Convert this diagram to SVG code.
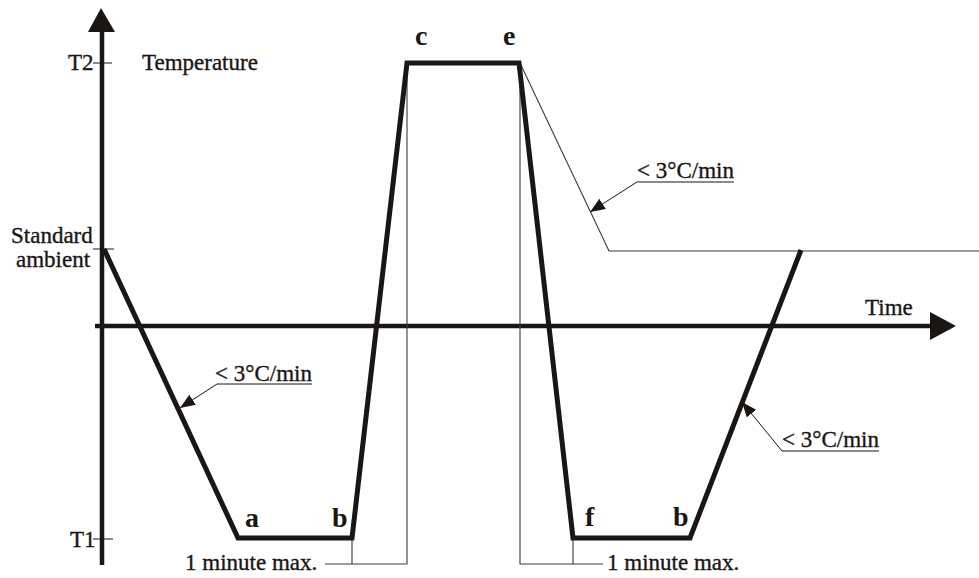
<svg xmlns="http://www.w3.org/2000/svg" width="979" height="578" viewBox="0 0 979 578">
<style>
text{font-family:"Liberation Serif","Times New Roman",serif;fill:#1a1614;font-size:23px;stroke:#1a1614;stroke-width:0.35}
.pt{font-size:28px;font-weight:bold;stroke-width:0}
.axis{stroke:#1a1614;stroke-width:4.5;fill:none}
.prof{stroke:#1a1614;stroke-width:5;fill:none;stroke-linejoin:miter}
.thin{stroke:#3a3a3a;stroke-width:1.1;fill:none}
.lead{stroke:#1a1614;stroke-width:1;fill:none}
</style>
<defs>
<marker id="ah" markerUnits="userSpaceOnUse" markerWidth="16" markerHeight="14" refX="15" refY="6" orient="auto">
<path d="M0,0 L15,6 L0,12 Z" fill="#1a1614"/>
</marker>
</defs>
<rect width="979" height="578" fill="#ffffff"/>
<g id="axes">
<line class="axis" x1="102" y1="28" x2="102" y2="565"/>
<polygon points="101,8 88,32 115,32" fill="#1a1614"/>
<line class="axis" x1="95" y1="326" x2="934" y2="326"/>
<polygon points="956,326 930,312 930,340" fill="#1a1614"/>
<line class="lead" x1="93" y1="63" x2="112" y2="63"/>
<line class="lead" x1="93" y1="249" x2="114" y2="249"/>
<line class="lead" x1="93" y1="539" x2="113" y2="539"/>
</g>
<g id="thin-lines">
<polyline class="thin" points="520,63 609,251 979,251"/>
<polyline class="thin" points="407,63 407,564 325,564"/>
<line class="thin" x1="352" y1="538" x2="352" y2="564"/>
<polyline class="thin" points="520,63 520,564 603,564"/>
<line class="thin" x1="573" y1="538" x2="573" y2="564"/>
</g>
<g id="profile">
<polyline class="prof" points="104,249 238,538 352,538 407,63 519,63 573,538 690,538 801,250"/>
</g>
<g id="connectors">
<polyline class="lead" points="312,384 217,384 180,408" marker-end="url(#ah)"/>
<polyline class="lead" points="734,182 637,182 590,212" marker-end="url(#ah)"/>
<polyline class="lead" points="879,451 782,451 742,402" marker-end="url(#ah)"/>
</g>
<g id="labels">
<text x="68" y="70">T2</text>
<text x="142" y="70">Temperature</text>
<text x="11" y="243">Standard</text>
<text x="16" y="267">ambient</text>
<text x="70" y="547">T1</text>
<text x="865" y="315">Time</text>
<text x="215" y="381">&lt; 3°C/min</text>
<text x="637" y="178">&lt; 3°C/min</text>
<text x="782" y="447">&lt; 3°C/min</text>
<text x="185" y="570">1 minute max.</text>
<text x="607" y="570">1 minute max.</text>
<text class="pt" x="245" y="527">a</text>
<text class="pt" x="332" y="527">b</text>
<text class="pt" x="415" y="45">c</text>
<text class="pt" x="503" y="45">e</text>
<text class="pt" x="585" y="526">f</text>
<text class="pt" x="673" y="526">b</text>
</g>
</svg>
